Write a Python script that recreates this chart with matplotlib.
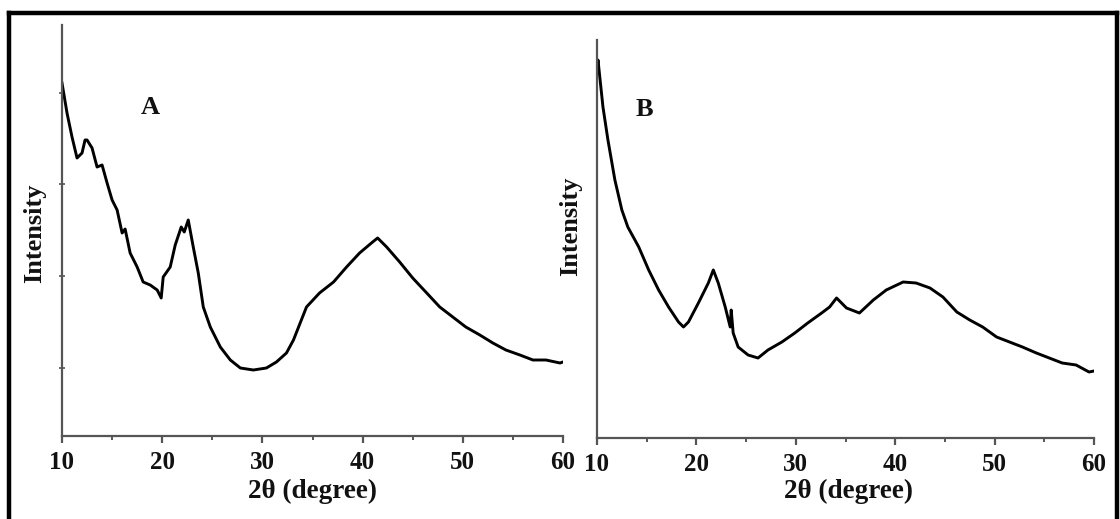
import matplotlib
matplotlib.use("Agg")
import matplotlib.pyplot as plt
from matplotlib.lines import Line2D

# ---- data (2theta in degrees, intensity in arbitrary units) ----
two_theta_a = [10.0, 10.5, 11.0, 11.5, 12.0, 12.3, 12.5, 13.0, 13.5, 14.0, 14.5, 15.0,
               15.5, 16.0, 16.3, 16.8, 17.5, 18.1, 18.8, 19.5, 19.9, 20.1, 20.8, 21.3,
               21.9, 22.2, 22.6, 23.1, 23.6, 24.1, 24.8, 25.8, 26.8, 27.8, 29.1, 30.4,
               31.4, 32.4, 33.1, 34.4, 35.7, 37.1, 38.4, 39.7, 41.0, 41.5, 42.4, 43.7,
               45.0, 46.4, 47.7, 49.0, 50.3, 51.7, 53.0, 54.3, 55.7, 57.0, 58.3, 59.7, 60.0]
intensity_a = [353, 323, 299, 278, 283, 296, 296, 288, 269, 271, 253, 236,
               226, 203, 207, 183, 169, 154, 151, 146, 138, 159, 169, 191,
               209, 204, 216, 189, 163, 129, 109, 89, 76, 68, 66, 68,
               74, 83, 96, 129, 143, 154, 169, 183, 194, 198, 189, 174,
               158, 143, 129, 119, 109, 101, 93, 86, 81, 76, 76, 73, 74]

two_theta_b = [10.0, 10.1, 10.6, 11.1, 11.8, 12.5, 13.1, 14.2, 15.2, 16.2, 17.2, 18.2,
               18.7, 19.2, 20.2, 21.2, 21.7, 22.2, 22.9, 23.4, 23.5, 23.7, 24.2, 25.2,
               26.2, 27.2, 28.6, 29.9, 31.2, 32.6, 33.4, 34.1, 35.1, 36.4, 37.8, 39.1,
               40.8, 42.1, 43.5, 44.8, 46.2, 47.5, 48.8, 50.2, 51.5, 52.8, 54.2, 55.5,
               56.8, 58.2, 59.5, 60.0]
intensity_b = [368, 378, 331, 298, 258, 228, 211, 191, 168, 148, 131, 116,
               111, 116, 135, 155, 168, 155, 131, 111, 128, 105, 91, 83,
               80, 88, 96, 105, 115, 125, 131, 140, 130, 125, 138, 148,
               156, 155, 150, 141, 126, 118, 111, 101, 96, 91, 85, 80,
               75, 73, 66, 67]

x_ticks = [10, 20, 30, 40, 50, 60]
x_minor = [15, 25, 35, 45, 55]
y_ticks_a = [68, 160, 252, 343]

W, H = 1120, 519
fig = plt.figure(figsize=(W / 100, H / 100), dpi=100)
fig.patch.set_facecolor("white")

serif = ["Liberation Serif", "DejaVu Serif"]
ink = "#111111"

def fx(px):
    return px / W

def fy(py):
    return 1 - py / H

def make_ax(left, right, top, bottom, ylim_top):
    ax = fig.add_axes([fx(left), fy(bottom), fx(right) - fx(left), fy(top) - fy(bottom)])
    ax.set_xlim(10, 60)
    ax.set_ylim(0, ylim_top)
    for s in ["top", "right"]:
        ax.spines[s].set_visible(False)
    for s in ["left", "bottom"]:
        ax.spines[s].set_color("#555555")
        ax.spines[s].set_linewidth(1.6)
    ax.set_xticks(x_ticks)
    ax.set_xticks(x_minor, minor=True)
    ax.tick_params(axis="x", which="major", direction="out", length=5, width=1.6,
                   color="#555555", pad=6)
    ax.tick_params(axis="x", which="minor", direction="out", length=3, width=1.4,
                   color="#555555")
    for lab in ax.get_xticklabels():
        lab.set_fontfamily(serif)
        lab.set_fontweight("bold")
        lab.set_fontsize(18)
        lab.set_color(ink)
    ax.patch.set_alpha(0)
    return ax

ax_a = make_ax(62, 563, 25, 436, 411)
ax_a.plot(two_theta_a, intensity_a, color="black", lw=2.1)
ax_a.set_yticks(y_ticks_a)
ax_a.set_yticklabels([])
ax_a.tick_params(axis="y", direction="inout", length=4, width=1.2, color="#555555")

ax_b = make_ax(597, 1094, 40, 438, 398)
ax_b.plot(two_theta_b, intensity_b, color="black", lw=2.1)
ax_b.set_yticks([])

# panel letters
fig.text(fx(150), fy(108), "A", family=serif, weight="bold", fontsize=19,
         ha="center", va="center", color=ink)
fig.text(fx(644), fy(109), "B", family=serif, weight="bold", fontsize=19,
         ha="center", va="center", color=ink)

# axis labels
for cx, cy in [(312, 491), (848, 491)]:
    fig.text(fx(cx), fy(cy), "2θ (degree)", family=serif, weight="bold", fontsize=19.5,
             ha="center", va="center", color=ink)
for cx, cy in [(35, 233), (571, 226)]:
    fig.text(fx(cx), fy(cy), "Intensity", family=serif, weight="bold", fontsize=19,
             ha="center", va="center", rotation=90, color=ink)

# outer frame
lw = 3.2
fig.add_artist(Line2D([fx(9), fx(9)], [fy(13), fy(525)], color="black", lw=lw,
                      transform=fig.transFigure))
fig.add_artist(Line2D([fx(9), fx(1117)], [fy(13), fy(13)], color="black", lw=lw,
                      transform=fig.transFigure))
fig.add_artist(Line2D([fx(1117), fx(1117)], [fy(13), fy(525)], color="black", lw=lw,
                      transform=fig.transFigure))

fig.savefig("out.png", dpi=100)
